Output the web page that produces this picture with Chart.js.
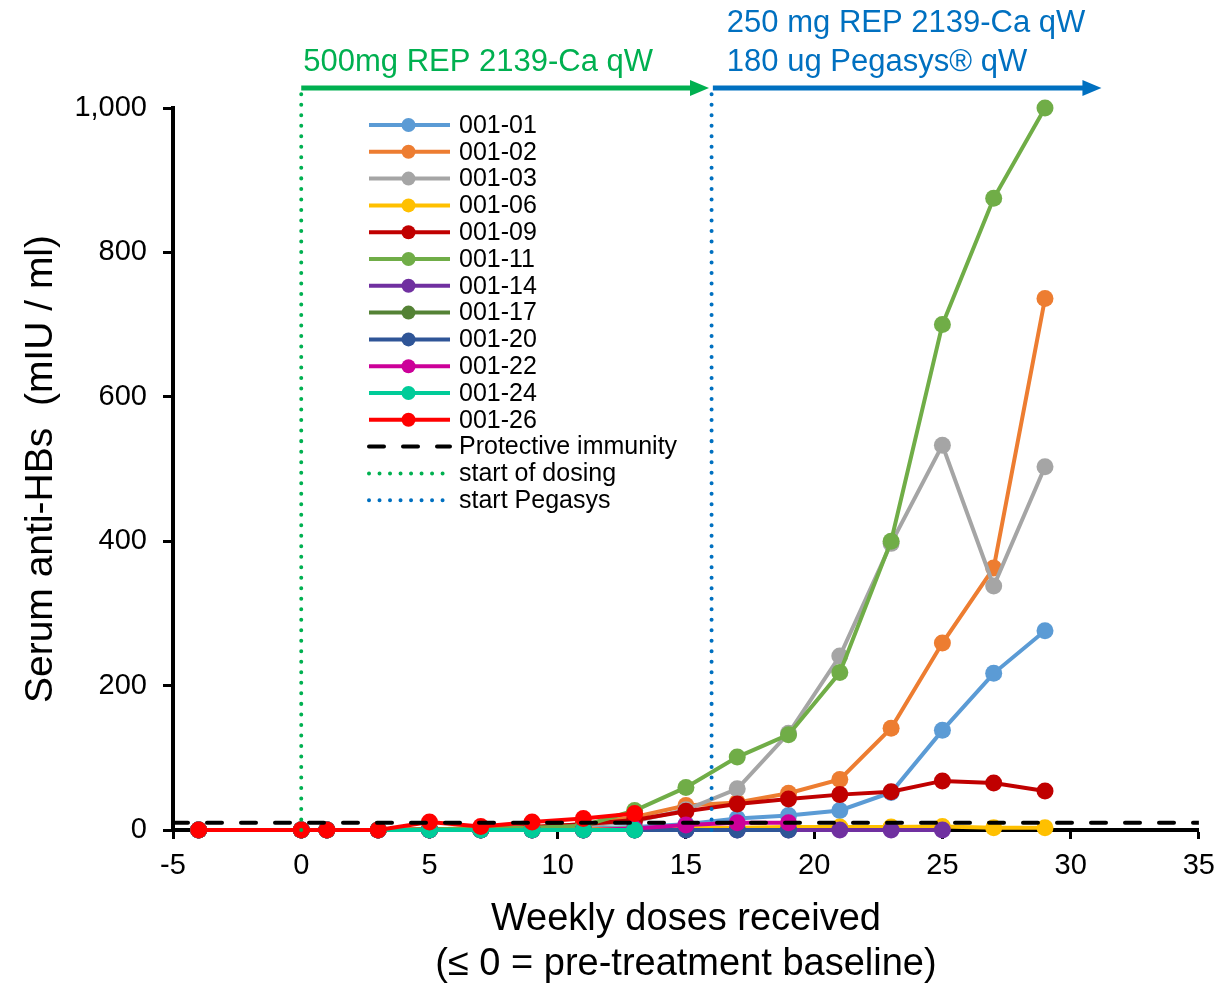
<!DOCTYPE html>
<html>
<head>
<meta charset="utf-8">
<script src="https://cdn.jsdelivr.net/npm/chart.js@4.4.1/dist/chart.umd.min.js"></script>
<style>
  body { margin: 0; background: #ffffff; }
  #wrap { width: 1225px; height: 984px; }
</style>
</head>
<body>
<div id="wrap"><canvas id="chart_anti_hbs" width="1225" height="984"></canvas></div>
<script>
// weekly doses received (x values)
const weeks = [-4, 0, 1, 3, 5, 7, 9, 11, 13, 15, 17, 19, 21, 23, 25, 27, 29];

// serum anti-HBs (mIU / ml) per patient, null = no sample
const p00101 = [0, 0, 0, 0, 0, 0, 1, 2, 4, 8, 16, 20, 27, 52, 138, 217, 276];
const p00102 = [0, 0, 0, 0, 1, 2, 4, 8, 18, 34, 38, 51, 70, 141, 259, 363, 736];
const p00103 = [0, 0, 0, 0, 0, 1, 3, 6, 12, 28, 57, 134, 241, 397, 533, 338, 503];
const p00106 = [0, 0, 0, 0, 0, 0, 1, 1, 2, 3, 3, 4, 4, 4, 5, 3, 3];
const p00109 = [0, 0, 0, 0, 1, 2, 4, 8, 14, 26, 36, 43, 49, 53, 68, 65, 54];
const p00111 = [0, 0, 0, 0, 1, 2, 3, 6, 27, 59, 101, 132, 218, 400, 700, 875, 1000];
const p00114 = [0, 0, 0, 0, 0, 0, 0, 0, 0, 0, 0, 0, 0, 0, 0, null, null];
const p00117 = [0, 0, 0, 0, 0, 0, 0, 0, 0, null, null, null, null, null, null, null, null];
const p00120 = [0, 0, 0, 0, 0, 0, 0, 0, 0, 0, 0, 0, null, null, null, null, null];
const p00122 = [0, 0, 0, 0, 0, 0, 0, 0, 2, 7, 10, 10, null, null, null, null, null];
const p00124 = [0, 0, 0, 0, 0, 0, 0, 0, 0, null, null, null, null, null, null, null, null];
const p00126 = [0, 0, 0, 0, 11, 5, 11, 16, 23, null, null, null, null, null, null, null, null];

const patientIds = ['001-01', '001-02', '001-03', '001-06', '001-09', '001-11', '001-14', '001-17', '001-20', '001-22', '001-24', '001-26'];
const patientValues = [p00101, p00102, p00103, p00106, p00109, p00111, p00114, p00117, p00120, p00122, p00124, p00126];
const patientColors = ['#5B9BD5', '#ED7D31', '#A5A5A5', '#FFC000', '#C00000', '#70AD47', '#7030A0', '#548235', '#2F5597', '#CC0099', '#00CC99', '#FF0000'];

// reference lines
const protectiveX = [-5, 35];
const protectiveY = [10, 10];
const dosingStartX = [0, 0];
const pegasysStartX = [16, 16];
const startLineY = [0, 1030];

// treatment phases shown above the plot
const phaseLabels = [['500mg REP 2139-Ca qW'], ['250 mg REP 2139-Ca qW', '180 ug Pegasys® qW']];
const phaseStarts = [0, 16.05];
const phaseEnds = [15.9, 31.2];
const phaseColors = ['#00B050', '#0070C0'];

const fontName = '"Liberation Sans", Arial, sans-serif';

function buildPoints(xList, yList) {
  let points = [];
  for (var i = 0; i < yList.length; i++) {
    if (yList[i] != null) {
      points.push({x: xList[i], y: yList[i]});
    }
  }
  return points;
}

let datasetList = [];
for (var i = 0; i < patientIds.length; i++) {
  datasetList.push({
    label: patientIds[i],
    data: buildPoints(weeks, patientValues[i]),
    borderColor: patientColors[i],
    backgroundColor: patientColors[i],
    borderWidth: 4,
    pointRadius: 8.5,
    pointBorderWidth: 0,
    pointBackgroundColor: patientColors[i],
    clip: false,
    order: patientIds.length - i
  });
}
datasetList.push({
  label: 'Protective immunity',
  data: buildPoints(protectiveX, protectiveY),
  borderColor: '#000000',
  borderWidth: 4,
  borderDash: [15, 19],
  borderCapStyle: 'round',
  pointRadius: 0,
  order: -1
});
datasetList.push({
  label: 'start of dosing',
  data: buildPoints(dosingStartX, startLineY),
  borderColor: '#00B050',
  borderWidth: 4,
  borderDash: [0.01, 10.5],
  borderCapStyle: 'round',
  pointRadius: 0,
  clip: false,
  order: -1
});
datasetList.push({
  label: 'start Pegasys',
  data: buildPoints(pegasysStartX, startLineY),
  borderColor: '#0070C0',
  borderWidth: 4,
  borderDash: [0.01, 10.5],
  borderCapStyle: 'round',
  pointRadius: 0,
  clip: false,
  order: -1
});

// legend drawn inside the plot area, one row per dataset
const insideLegend = {
  id: 'insideLegend',
  afterDraw(chart) {
    const ctx = chart.ctx;
    const x0 = 367, y0 = 125, rowH = 26.8, lineW = 83;
    chart.data.datasets.forEach(function(ds, i) {
      let y = y0 + i * rowH;
      ctx.save();
      ctx.strokeStyle = ds.borderColor;
      ctx.lineWidth = ds.borderWidth;
      ctx.lineCap = ds.borderCapStyle || 'butt';
      ctx.setLineDash(ds.borderDash || []);
      ctx.beginPath();
      ctx.moveTo(x0 + 2, y);
      ctx.lineTo(x0 + lineW, y);
      ctx.stroke();
      ctx.setLineDash([]);
      if (ds.pointRadius > 0) {
        ctx.fillStyle = ds.pointBackgroundColor;
        ctx.beginPath();
        ctx.arc(x0 + lineW / 2, y, 7, 0, Math.PI * 2);
        ctx.fill();
      }
      ctx.fillStyle = '#000000';
      ctx.font = '25px ' + fontName;
      ctx.textBaseline = 'middle';
      ctx.textAlign = 'left';
      ctx.fillText(ds.label, x0 + 92, y + 1);
      ctx.restore();
    });
  }
};

// arrows and labels for the treatment phases
const phaseArrows = {
  id: 'phaseArrows',
  afterDraw(chart) {
    const ctx = chart.ctx;
    const xScale = chart.scales.x;
    const arrowY = chart.chartArea.top - 20;
    const textOffsets = [2, 14];
    for (var i = 0; i < phaseLabels.length; i++) {
      let x1 = xScale.getPixelForValue(phaseStarts[i]);
      let x2 = xScale.getPixelForValue(phaseEnds[i]);
      ctx.save();
      ctx.fillStyle = phaseColors[i];
      ctx.fillRect(x1, arrowY - 2.5, x2 - x1 - 17, 5);
      ctx.beginPath();
      ctx.moveTo(x2 - 19, arrowY - 8);
      ctx.lineTo(x2, arrowY);
      ctx.lineTo(x2 - 19, arrowY + 8);
      ctx.closePath();
      ctx.fill();
      ctx.font = '31px ' + fontName;
      ctx.textBaseline = 'alphabetic';
      ctx.textAlign = 'left';
      let lines = phaseLabels[i];
      for (var j = 0; j < lines.length; j++) {
        ctx.fillText(lines[j], x1 + textOffsets[i], arrowY - 17 - (lines.length - 1 - j) * 39);
      }
      ctx.restore();
    }
  }
};

new Chart(document.getElementById('chart_anti_hbs'), {
  type: 'line',
  data: { datasets: datasetList },
  plugins: [insideLegend, phaseArrows],
  options: {
    responsive: false,
    animation: false,
    layout: { padding: { top: 108, right: 24, left: 0, bottom: 0 } },
    plugins: {
      legend: { display: false },
      tooltip: { enabled: false }
    },
    scales: {
      x: {
        type: 'linear',
        min: -5,
        max: 35,
        ticks: { stepSize: 5, color: '#000000', padding: 10, font: { family: fontName, size: 29 } },
        grid: { drawOnChartArea: false, drawTicks: true, tickLength: 9, tickColor: '#000000', tickWidth: 3 },
        border: { display: true, color: '#000000', width: 4 },
        title: {
          display: true,
          text: ['Weekly doses received', '(≤ 0 = pre-treatment baseline)'],
          color: '#000000',
          font: { family: fontName, size: 38, lineHeight: 1.21 },
          padding: { top: 0, bottom: -4 }
        },
        afterFit: function(scale) { scale.height = 154; }
      },
      y: {
        min: 0,
        max: 1000,
        ticks: {
          stepSize: 200,
          color: '#000000',
          padding: 16,
          font: { family: fontName, size: 29 },
          callback: function(value) { return value.toLocaleString('en-US'); }
        },
        grid: { drawOnChartArea: false, drawTicks: true, tickLength: 10, tickColor: '#000000', tickWidth: 3 },
        border: { display: true, color: '#000000', width: 4 },
        title: {
          display: true,
          text: 'Serum anti-HBs  (mIU / ml)',
          color: '#000000',
          font: { family: fontName, size: 39 },
          padding: { top: 18, bottom: 0 }
        },
        afterFit: function(scale) { scale.width = 173; }
      }
    }
  }
});
</script>
</body>
</html>
